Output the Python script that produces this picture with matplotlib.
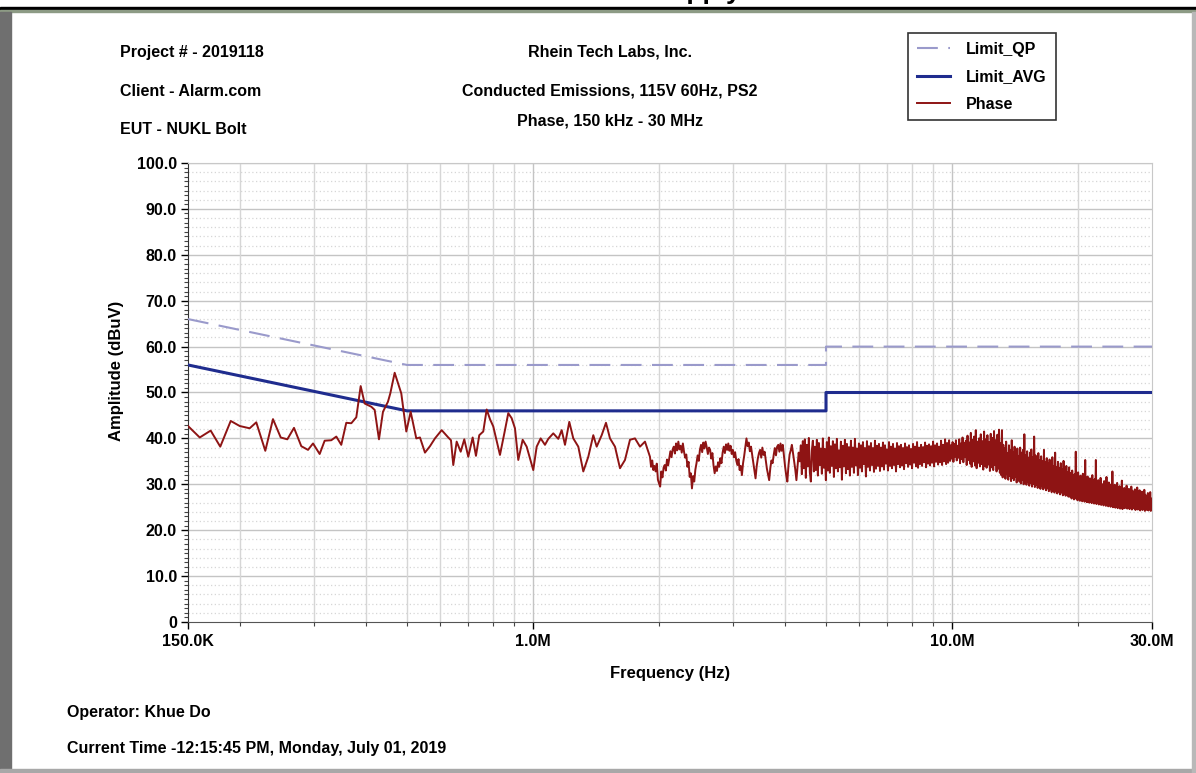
import numpy as np
import matplotlib
matplotlib.use("Agg")
import matplotlib.pyplot as plt
from matplotlib.patches import Rectangle

plt.rcParams['font.family'] = ['Liberation Sans', 'DejaVu Sans']

# ---------------- data ----------------
limit_freq_hz = [150e3, 500e3, 5e6, 5e6, 30e6]
limit_qp = [66, 56, 56, 60, 60]
limit_avg = [56, 46, 46, 50, 50]

# low band: explicit frequencies (kHz) and amplitudes (dBuV)
phase_a_khz = [150.0, 160.0, 169.9, 179.1, 189.7, 199.3, 210.5, 218.3, 229.4, 239.3,
               249.7, 258.9, 268.6, 279.6, 290.1, 298.2, 309.3, 317.9, 329.7, 338.9,
               348.3, 358.0, 368.0, 378.3, 387.5, 396.1, 410.8, 418.5, 428.5, 438.0,
               450.2, 456.0, 467.1, 484.4, 497.9, 510.0, 526.0]
phase_a_db = [42.7, 40.2, 41.7, 38.2, 43.8, 42.7, 42.2, 43.5, 37.3, 44.2,
              40.2, 39.8, 42.3, 38.3, 37.5, 38.9, 36.6, 39.5, 39.6, 40.4,
              38.6, 43.4, 43.3, 44.6, 51.4, 47.6, 46.9, 46.2, 39.8, 45.8,
              48.0, 49.8, 54.3, 49.8, 41.5, 45.8, 40.0]

phase_b_khz = [536.8, 551.7, 567.1, 582.9, 604.8, 627.1, 636.5, 644.6, 656.7, 671.4,
               684.8, 700.0, 717.1, 730.2, 743.6, 760.1, 774.5, 788.7, 803.1, 833.2,
               856.4, 872.1, 888.5, 904.8, 921.4, 943.9, 964.9, 1000.5, 1019.4, 1042.0,
               1067.0, 1086.7, 1116.9, 1148.1, 1169.7, 1191.1, 1219.6, 1246.7, 1281.5, 1317.2,
               1353.9, 1391.6, 1417.8, 1457.3, 1492.1, 1525.4, 1567.8, 1611.5, 1656.3, 1702.5,
               1749.9, 1798.7, 1848.8, 1900.2]
phase_b_db = [40.2, 36.9, 38.3, 40.0, 41.8, 40.2, 39.6, 34.2, 39.3, 37.1,
              39.8, 36.0, 40.2, 36.2, 40.7, 41.5, 46.3, 44.2, 42.6, 36.4,
              41.8, 45.5, 44.4, 42.2, 35.3, 39.7, 38.2, 33.1, 38.2, 40.0,
              38.6, 39.9, 41.1, 39.9, 41.8, 38.6, 43.6, 40.0, 38.2, 32.8,
              36.0, 40.7, 38.2, 40.7, 43.4, 40.0, 38.2, 33.5, 35.3, 39.7,
              40.0, 38.2, 39.3, 36.0]

# higher bands: sweep segments (start Hz, stop Hz) with amplitudes
seg_c_hz = (1.90e6, 4.33e6)
seg_c_db = [33.8, 35.2, 33.1, 34.0, 32.8, 34.5, 31.0, 30.2, 29.5, 32.8,
            31.5, 33.6, 34.2, 33.0, 35.4, 34.1, 35.7, 37.2, 35.9, 37.6,
            38.2, 36.7, 38.9, 37.4, 39.3, 37.6, 38.4, 36.9, 38.9, 37.1,
            35.8, 36.5, 33.8, 34.9, 31.6, 32.4, 29.1, 31.8, 30.6, 33.2,
            34.6, 36.3, 35.1, 37.5, 38.6, 37.0, 39.1, 37.8, 39.3, 38.1,
            36.6, 38.0, 37.5, 35.6, 36.8, 34.1, 32.4, 33.9, 32.9, 34.8,
            33.8, 35.7, 34.6, 36.9, 38.2, 36.8, 38.7, 37.5, 38.9, 37.3,
            38.4, 36.6, 37.5, 35.9, 37.0, 35.2, 34.2, 35.5, 33.1, 34.0,
            32.0, 34.6, 36.2, 38.1, 40.0, 38.3, 39.1, 37.2, 38.2, 36.5,
            34.8, 33.0, 31.3, 33.9, 35.6, 36.8, 37.5, 35.8, 38.0, 36.4,
            37.1, 35.2, 33.4, 32.1, 30.9, 33.5, 35.2, 34.6, 36.4, 37.9,
            36.3, 38.2, 38.6, 37.1, 38.9, 37.3, 38.6, 36.2, 33.9, 32.0,
            30.6, 34.1, 36.5, 37.4, 38.6, 36.8, 35.0, 33.2, 30.9, 33.8,
            36.9, 35.0]

seg_d1_hz = (4.33e6, 9.89e6)
seg_d1_db = [38.5, 32.2, 39.4, 33.5, 39.8, 31.4, 38.6, 33.9, 40.1, 32.6,
             30.6, 37.4, 39.5, 32.8, 38.2, 33.1, 39.7, 31.9, 39.0, 34.2,
             37.8, 32.3, 40.0, 33.6, 37.7, 30.9, 39.2, 33.0, 40.2, 32.5,
             38.3, 34.0, 39.4, 31.6, 38.7, 33.5, 39.9, 32.8, 37.4, 33.7,
             39.3, 31.0, 38.4, 33.9, 39.7, 32.4, 38.8, 33.3, 38.1, 31.9,
             39.5, 33.8, 38.0, 32.5, 39.9, 34.1, 37.8, 32.0, 38.9, 33.6,
             38.5, 32.8, 39.2, 34.4, 37.9, 31.7, 39.4, 33.8, 38.3, 33.0,
             39.0, 34.2, 37.9, 32.7, 39.5, 33.4, 38.4, 34.0, 38.8, 32.9,
             38.0, 33.9, 39.1, 33.2, 38.5, 34.5, 37.6, 33.0, 39.2, 34.0,
             38.2, 33.5, 38.8, 34.2, 37.8, 32.8, 39.0, 34.4, 38.3, 33.7,
             38.6, 34.1, 37.9, 33.3, 38.9, 34.6, 38.1, 33.8, 38.5, 34.3,
             37.7, 33.5, 38.8, 34.7, 38.2, 33.9, 39.2, 33.6, 38.0, 34.4,
             38.6, 34.0, 38.1, 34.8, 39.1, 33.7, 38.4, 34.5, 38.7, 34.1,
             38.3, 34.7, 39.3, 33.9, 38.5, 34.9, 38.9, 34.3, 38.2, 34.8,
             39.5, 34.2, 38.6, 35.0, 39.8, 34.4, 39.0, 34.7, 39.6, 35.1]

seg_d2_hz = (9.89e6, 13.0e6)
seg_d2_db = [38.5, 35.6, 39.2, 34.9, 38.8, 36.0, 39.6, 35.2, 38.4, 35.8,
             39.8, 34.6, 38.9, 35.5, 40.2, 34.8, 39.0, 35.9, 39.5, 34.2,
             40.6, 35.3, 39.1, 34.5, 41.2, 33.8, 39.7, 35.0, 40.4, 34.1,
             41.8, 33.5, 39.3, 34.7, 40.0, 33.9, 40.9, 34.4, 39.4, 33.2,
             41.5, 34.0, 39.8, 33.6, 40.7, 34.3, 39.2, 32.9, 41.0, 33.7,
             40.1, 33.1, 41.6, 34.2, 39.6, 32.8, 40.8, 33.4, 41.9, 32.5]

seg_d3_hz = (13.0e6, 19.1e6)
seg_d3_db = [39.0, 32.0, 41.8, 31.5, 38.6, 32.4, 37.9, 31.2, 39.3, 32.2,
             36.8, 31.0, 38.5, 31.8, 37.4, 30.7, 39.6, 31.4, 37.0, 30.9,
             38.2, 31.6, 36.5, 30.4, 37.8, 31.1, 36.2, 30.6, 38.0, 30.2,
             36.9, 31.0, 37.5, 30.0, 40.9, 30.8, 36.4, 29.9, 37.2, 30.5,
             35.8, 29.7, 36.9, 30.3, 37.6, 29.5, 35.9, 30.1, 40.4, 29.4,
             36.3, 29.9, 35.5, 29.2, 36.8, 29.8, 35.2, 29.0, 36.1, 29.6,
             35.0, 28.9, 37.5, 29.3, 34.8, 28.7, 35.7, 29.1, 34.5, 28.5,
             35.4, 28.9, 34.2, 28.3, 35.9, 28.7, 34.0, 28.2, 36.9, 28.6,
             33.8, 28.0, 34.9, 28.4, 33.5, 27.8, 34.6, 28.2, 33.2, 27.6,
             35.1, 28.0, 32.9, 27.5, 34.0, 27.8, 32.6, 27.3, 33.7, 27.6]

seg_d4_hz = (19.1e6, 30.0e6)
seg_d4_db = [32.5, 27.2, 31.8, 26.9, 33.0, 27.4, 31.2, 26.7, 32.2, 27.0,
             37.1, 26.8, 31.5, 26.5, 32.6, 27.1, 30.9, 26.4, 31.9, 26.8,
             30.6, 26.3, 32.3, 26.7, 31.0, 26.2, 35.3, 26.5, 30.8, 26.1,
             31.7, 26.6, 30.4, 26.0, 31.3, 26.4, 30.2, 25.9, 32.0, 26.3,
             30.5, 25.8, 31.1, 26.2, 35.3, 25.7, 30.3, 26.1, 30.9, 25.6,
             29.9, 26.0, 31.4, 25.5, 30.1, 25.9, 29.7, 25.4, 30.7, 25.8,
             29.5, 25.3, 31.6, 25.7, 29.8, 25.2, 30.4, 25.6, 29.3, 25.1,
             30.0, 25.5, 32.8, 25.0, 29.4, 25.4, 29.9, 24.9, 29.1, 25.3,
             30.3, 24.8, 28.9, 25.2, 29.6, 24.7, 28.7, 25.1, 30.8, 24.6,
             28.8, 25.0, 29.2, 24.8, 28.5, 25.1, 29.7, 24.7, 28.4, 24.9,
             29.0, 24.6, 28.2, 25.0, 29.5, 24.5, 28.6, 24.9, 28.0, 24.7,
             28.9, 24.4, 27.8, 24.8, 29.3, 24.5, 27.9, 24.6, 28.7, 24.3,
             27.6, 24.7, 28.4, 24.4, 27.4, 24.6, 28.8, 24.2, 27.7, 24.5,
             27.3, 24.4, 28.1, 24.3, 27.5, 24.6, 28.3, 24.2, 26.9, 25.0]

x_tick_vals = [150e3, 1e6, 10e6, 30e6]
x_tick_labels = ["150.0K", "1.0M", "10.0M", "30.0M"]
y_tick_vals = [0, 10, 20, 30, 40, 50, 60, 70, 80, 90, 100]
y_tick_labels = ["0", "10.0", "20.0", "30.0", "40.0", "50.0", "60.0", "70.0", "80.0", "90.0", "100.0"]

header_left = ["Project # - 2019118", "Client - Alarm.com", "EUT - NUKL Bolt"]
header_center = ["Rhein Tech Labs, Inc.", "Conducted Emissions, 115V 60Hz, PS2", "Phase, 150 kHz - 30 MHz"]
footer = ["Operator: Khue Do", "Current Time -12:15:45 PM, Monday, July 01, 2019"]
page_title = "Plot 4: Conducted Emissions \u2013 Phase \u2013 AC Power Supply"

# ---------------- assemble trace ----------------
freq_parts = [np.array(phase_a_khz) * 1e3, np.array(phase_b_khz) * 1e3]
amp_parts = [np.array(phase_a_db), np.array(phase_b_db)]
segs = [(seg_c_hz, seg_c_db), (seg_d1_hz, seg_d1_db), (seg_d2_hz, seg_d2_db),
        (seg_d3_hz, seg_d3_db), (seg_d4_hz, seg_d4_db)]
for i, (edges, vals) in enumerate(segs):
    last = i == len(segs) - 1
    f = np.geomspace(edges[0], edges[1], len(vals) + (0 if last else 1), endpoint=True)
    if not last:
        f = f[1:]
    freq_parts.append(f)
    amp_parts.append(np.array(vals))
phase_freq = np.concatenate(freq_parts)
phase_amp = np.concatenate(amp_parts)

# ---------------- figure ----------------
W, H = 1196, 773
fig = plt.figure(figsize=(W / 100, H / 100), dpi=100)
fig.patch.set_facecolor("white")


def fx(px):
    return px / W


def fy(py):
    return 1 - py / H


# page decorations (window frame)
fig.patches.append(Rectangle((0, fy(10)), 1, 3 / H, transform=fig.transFigure,
                             color="black", zorder=0))
fig.patches.append(Rectangle((0, fy(12)), 1, 2 / H, transform=fig.transFigure,
                             color="#8d9b85", zorder=0))
fig.patches.append(Rectangle((0, 0), 11 / W, fy(12), transform=fig.transFigure,
                             color="#6f6f6f", zorder=0))
fig.patches.append(Rectangle((0, 0), 1, 4 / H, transform=fig.transFigure,
                             color="#a8a8a8", zorder=0))
fig.patches.append(Rectangle((1 - 4 / W, 0), 4 / W, fy(12), transform=fig.transFigure,
                             color="#b8b8b8", zorder=0))

# page caption above the window, clipped by the top edge as in the source
fig.text(fx(20), fy(-1), page_title, fontsize=19, fontweight="bold",
         ha="left", va="baseline", color="black")

ax = fig.add_axes([fx(188), fy(622), (1152 - 188) / W, (622 - 163) / H])
ax.set_xscale("log")
ax.set_xlim(150e3, 30e6)
ax.set_ylim(0, 100)

# grid
grid_major = "#c4c4c4"
grid_minor = "#d6d6d6"
ax.set_yticks(y_tick_vals)
ax.set_yticklabels(y_tick_labels)
ax.set_yticks(np.arange(0, 101, 1), minor=True)
for yv in np.arange(2, 100, 2):
    if yv % 10:
        ax.axhline(yv, color=grid_minor, lw=0.9, ls=(0, (1, 2)), zorder=1)
for yv in y_tick_vals[1:]:
    ax.axhline(yv, color=grid_major, lw=1.0, zorder=1)

ax.set_xticks(x_tick_vals)
ax.set_xticklabels(x_tick_labels)
minor_x = [m * d for d in (1e5, 1e6, 1e7) for m in range(2, 10) if 150e3 < m * d < 30e6]
ax.set_xticks(minor_x, minor=True)
for xv in minor_x:
    ax.axvline(xv, color=grid_minor, lw=1.0, zorder=1)
for xv in (1e6, 10e6):
    ax.axvline(xv, color=grid_major, lw=1.0, zorder=1)

ax.tick_params(axis="both", which="major", labelsize=11.5, direction="out",
               length=5, width=1, color="black")
ax.tick_params(axis="y", which="major", pad=3)
ax.tick_params(axis="x", which="major", pad=4)
ax.tick_params(axis="both", which="minor", length=3, width=0.8, color="#444444")
for lab in ax.get_xticklabels() + ax.get_yticklabels():
    lab.set_fontweight("bold")

for side in ("top", "right"):
    ax.spines[side].set_color("#c8c8c8")
ax.spines["left"].set_color("#333333")
ax.spines["bottom"].set_color("#555555")

# data
l_qp, = ax.plot(limit_freq_hz, limit_qp, color="#9a9acb", lw=1.5,
                dashes=(10, 5), zorder=3, label="Limit_QP")
l_avg, = ax.plot(limit_freq_hz, limit_avg, color="#1f2c8e", lw=2.2,
                 zorder=3, label="Limit_AVG")
l_ph, = ax.plot(phase_freq, phase_amp, color="#8e1414", lw=1.4,
                zorder=4, label="Phase")

ax.set_xlabel("Frequency (Hz)", fontsize=12, fontweight="bold", labelpad=12)
fig.text(fx(116), fy(371), "Amplitude (dBuV)", rotation=90, fontsize=12,
         fontweight="bold", ha="center", va="center")

# header texts
for i, t in enumerate(header_left):
    fig.text(fx(120), fy([52, 91, 129][i]), t, fontsize=11.5, fontweight="bold",
             ha="left", va="center")
for i, t in enumerate(header_center):
    fig.text(fx(610), fy([52, 91, 121][i]), t, fontsize=11.5, fontweight="bold",
             ha="center", va="center")
for i, t in enumerate(footer):
    fig.text(fx(67), fy([713, 749][i]), t, fontsize=11.5, fontweight="bold",
             ha="left", va="center")

leg = fig.legend(handles=[l_qp, l_avg, l_ph], loc="upper left",
                 bbox_to_anchor=(fx(908), fy(33)), fontsize=11.5,
                 frameon=True, fancybox=False, edgecolor="black",
                 handlelength=2.1, handletextpad=1.0, labelspacing=0.78,
                 borderpad=0.55, borderaxespad=0)
leg.get_frame().set_linewidth(1.2)
for t in leg.get_texts():
    t.set_fontweight("bold")

fig.savefig("out.png", dpi=100)
